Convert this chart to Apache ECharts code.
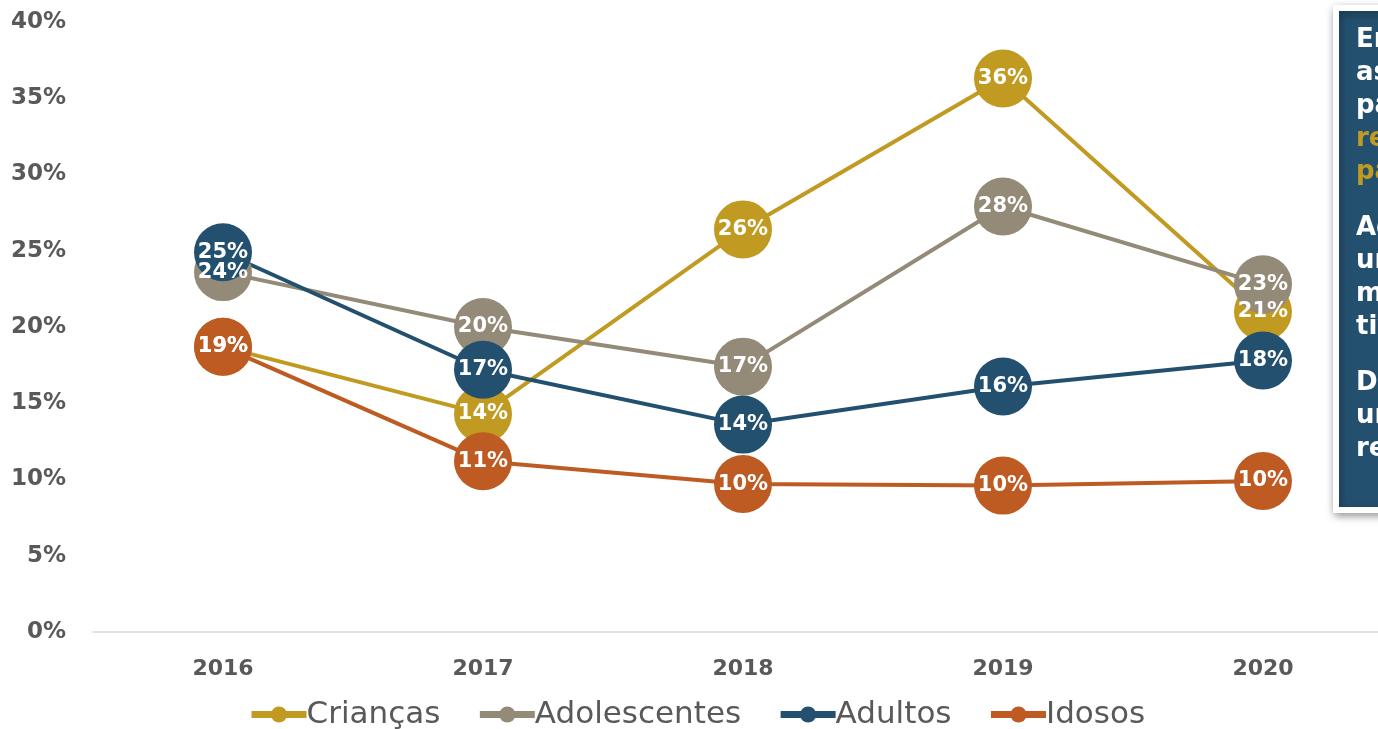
<!DOCTYPE html>
<html>
<head>
<meta charset="utf-8">
<script src="https://cdn.jsdelivr.net/npm/echarts@6/dist/echarts.min.js"></script>
<style>
  html, body { margin: 0; padding: 0; background: #fff; }
  #chart { width: 1378px; height: 729px; }
</style>
</head>
<body>
<div id="chart"></div>
<script>
const years = ['2016', '2017', '2018', '2019', '2020'];
const criancas = [18.7, 14.3, 26.4, 36.3, 21.0];
const adolescentes = [23.6, 20.0, 17.4, 27.9, 22.8];
const adultos = [24.9, 17.2, 13.6, 16.1, 17.8];
const idosos = [18.7, 11.2, 9.7, 9.6, 9.9];
const yTicks = [0, 5, 10, 15, 20, 25, 30, 35, 40];

// texto do quadro à direita (cortado na borda)
const boxLines = [
  { t: 'Em 2019, o grupo', gold: false },
  { t: 'as crianças', gold: false },
  { t: 'passaram a', gold: false },
  { t: 'representar a maior', gold: true },
  { t: 'parcela', gold: true },
  { t: '', gold: false },
  { t: 'Adolescentes', gold: false },
  { t: 'um aumento', gold: false },
  { t: 'menos', gold: false },
  { t: 'tivos', gold: false },
  { t: '', gold: false },
  { t: 'Demais grupos', gold: false },
  { t: 'uma', gold: false },
  { t: 'redução', gold: false }
];

const colors = {
  criancas: '#C19A22',
  adolescentes: '#938A77',
  adultos: '#24506F',
  idosos: '#BE5B22'
};

const font = "'DejaVu Sans', sans-serif";

function serie(name, data, color) {
  return {
    name: name,
    type: 'line',
    data: data,
    symbol: 'circle',
    symbolSize: 58,
    showAllSymbol: true,
    itemStyle: { color: color },
    lineStyle: { color: color, width: 4 },
    label: {
      show: true,
      position: 'inside',
      color: '#fff',
      fontFamily: font,
      fontWeight: 'bold',
      fontSize: 21,
      formatter: p => Math.round(p.value) + '%'
    },
    emphasis: { disabled: true },
    animation: false
  };
}

const textEls = [];
let y = 40;
boxLines.forEach(l => {
  if (l.t === '') { y += 23; return; }
  textEls.push({
    type: 'text',
    x: 1356,
    y: y,
    z: 20,
    style: {
      text: l.t,
      fill: l.gold ? '#C19A22' : '#fff',
      font: "bold 26px 'DejaVu Sans', sans-serif",
      verticalAlign: 'middle'
    }
  });
  y += 33;
});

const chart = echarts.init(document.getElementById('chart'));
chart.setOption({
  backgroundColor: '#fff',
  grid: { left: 93, width: 1300, top: 22, height: 610, containLabel: false, outerBoundsMode: 'none' },
  xAxis: {
    type: 'category',
    data: years,
    boundaryGap: true,
    axisLine: { lineStyle: { color: '#D9D9D9', width: 1.5 } },
    axisTick: { show: false },
    axisLabel: {
      color: '#595959',
      fontFamily: font,
      fontWeight: 'bold',
      fontSize: 22,
      margin: 26
    }
  },
  yAxis: {
    type: 'value',
    min: 0,
    max: 40,
    interval: 5,
    splitLine: { show: false },
    axisLine: { show: false },
    axisTick: { show: false },
    axisLabel: {
      color: '#595959',
      fontFamily: font,
      fontWeight: 'bold',
      fontSize: 23,
      margin: 27,
      formatter: v => yTicks.includes(v) ? v + '%' : ''
    }
  },
  legend: {
    top: 694,
    left: 243,
    itemWidth: 55,
    itemHeight: 20,
    itemGap: 36,
    lineStyle: { width: 7 },
    textStyle: { color: '#595959', fontFamily: font, fontSize: 31, padding: [0, 0, 0, -5] },
    data: ['Crianças', 'Adolescentes', 'Adultos', 'Idosos']
  },
  series: [
    serie('Crianças', criancas, colors.criancas),
    serie('Adolescentes', adolescentes, colors.adolescentes),
    serie('Adultos', adultos, colors.adultos),
    serie('Idosos', idosos, colors.idosos)
  ],
  graphic: [
    {
      type: 'rect',
      shape: { x: 1336, y: 8, width: 80, height: 502 },
      z: 10,
      style: {
        fill: '#24506F',
        stroke: '#fff',
        lineWidth: 6,
        shadowBlur: 8,
        shadowColor: 'rgba(0,0,0,0.35)',
        shadowOffsetX: 1,
        shadowOffsetY: 3
      }
    }
  ].concat(textEls)
});
</script>
</body>
</html>
